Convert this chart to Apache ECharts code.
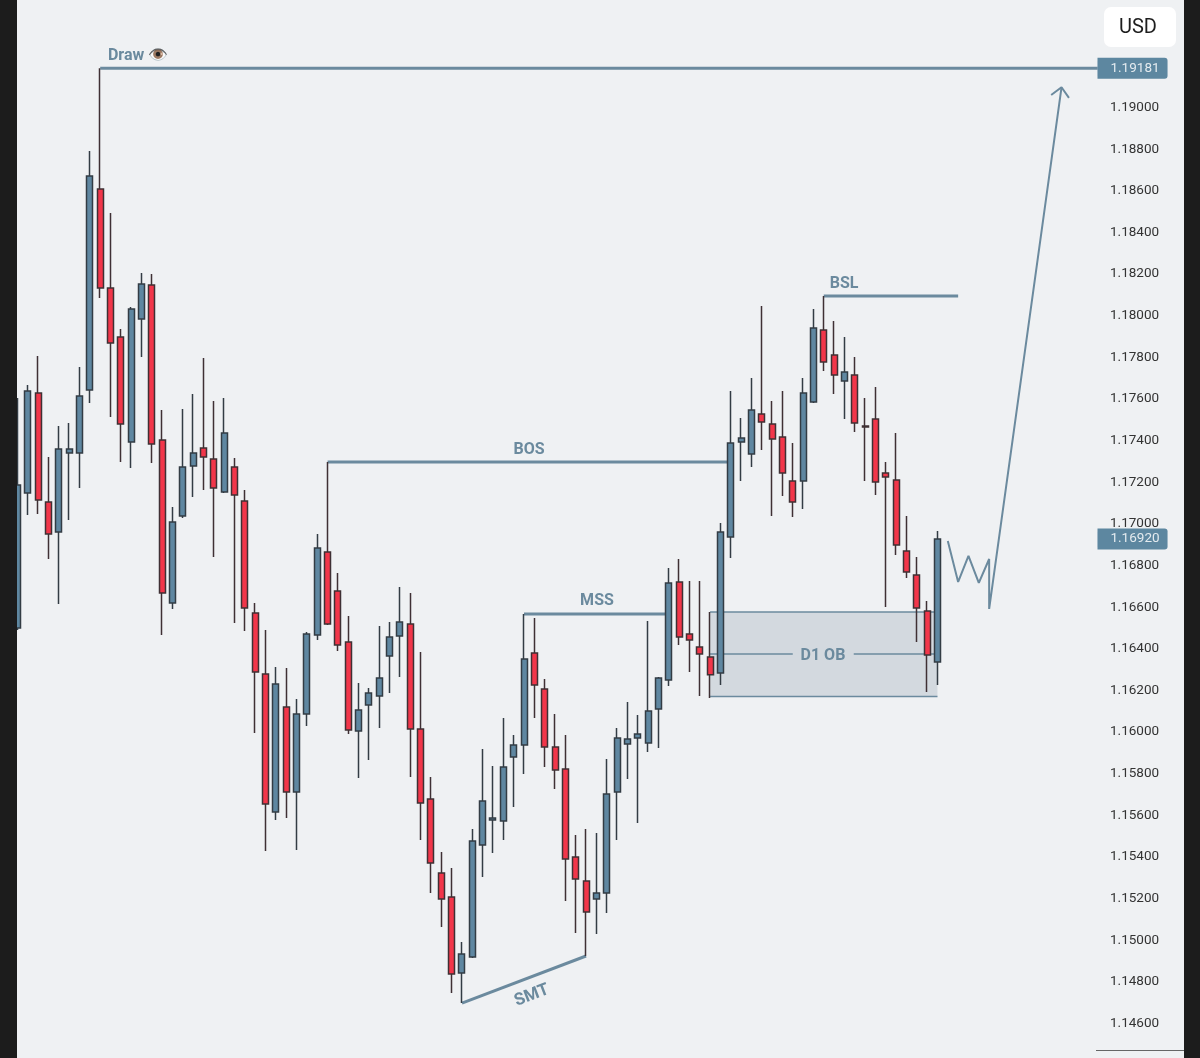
<html>
<head>
    <meta charset="utf-8" />
    <script src="https://cdn.jsdelivr.net/npm/echarts@6/dist/echarts.min.js"></script>
    <style>
        html, body { margin: 0; padding: 0; background: #eff1f3; }
    </style>
</head>
<body>
    <div id="chart" style="width: 1200px;height:1058px;"></div>
    <script>
        // candles, oldest first
        var opens = [
            1.16493,1.17141,1.17621,1.17098,1.16954,1.17333,1.17333,1.17636,1.18601,1.18126,
            1.17890,1.17386,1.17977,1.18140,1.17396,1.16613,1.17031,1.17271,1.17357,1.17304,
            1.17146,1.17266,1.17103,1.16565,1.16272,1.15609,1.16113,1.15705,1.16080,1.16459,
            1.16858,1.16670,1.16425,1.15998,1.16123,1.16166,1.16358,1.16454,1.16512,1.16007,
            1.15671,1.15316,1.15201,1.14835,1.14912,1.15450,1.15570,1.15566,1.15873,1.15931,
            1.16373,1.16200,1.15921,1.15815,1.15393,1.15277,1.15191,1.15220,1.15705,1.15935,
            1.15964,1.15940,1.16104,1.16243,1.16714,1.16464,1.16401,1.16353,1.16276,1.16930,
            1.17386,1.17328,1.17521,1.17473,1.17410,1.17199,1.17199,1.17578,1.17924,1.17804,
            1.17679,1.17708,1.17463,1.17497,1.17237,1.17204,1.16863,1.16747,1.16574,1.16329
        ]
        var closes = [
            1.17180,1.17631,1.17107,1.16944,1.17352,1.17352,1.17607,1.18664,1.18126,1.17862,
            1.17473,1.18025,1.18145,1.17376,1.16661,1.17002,1.17266,1.17333,1.17314,1.17165,
            1.17429,1.17132,1.16589,1.16281,1.15647,1.16224,1.15705,1.16080,1.16464,1.16877,
            1.16512,1.16411,1.16003,1.16099,1.16180,1.16252,1.16449,1.16521,1.16007,1.15652,
            1.15364,1.15191,1.14831,1.14927,1.15470,1.15662,1.15580,1.15825,1.15931,1.16344,
            1.16219,1.15921,1.15811,1.15383,1.15287,1.15128,1.15220,1.15695,1.15964,1.15959,
            1.15983,1.16094,1.16252,1.16709,1.16449,1.16435,1.16368,1.16268,1.16954,1.17381,
            1.17405,1.17540,1.17482,1.17401,1.17237,1.17098,1.17621,1.17934,1.17770,1.17708,
            1.17722,1.17477,1.17458,1.17194,1.17218,1.16891,1.16762,1.16589,1.16363,1.16920
        ]
        var lows = [
            1.16483,1.17035,1.17040,1.16824,1.16608,1.17011,1.17165,1.17573,1.18078,1.17506,
            1.17290,1.17261,1.17794,1.17285,1.16459,1.16584,1.17021,1.17122,1.17156,1.16834,
            1.17141,1.16517,1.16478,1.15988,1.15421,1.15570,1.15580,1.15426,1.16022,1.16435,
            1.16507,1.16382,1.15983,1.15772,1.15859,1.16012,1.16180,1.16257,1.15777,1.15474,
            1.15220,1.15056,1.14739,1.14691,1.14907,1.15297,1.15412,1.15474,1.15633,1.15791,
            1.16060,1.15825,1.15719,1.15181,1.15028,1.14917,1.15023,1.15124,1.15474,1.15767,
            1.15556,1.15897,1.15916,1.16214,1.16411,1.16281,1.16166,1.16156,1.16219,1.16829,
            1.17199,1.17266,1.17348,1.17031,1.17127,1.17026,1.17064,1.17573,1.17727,1.17617,
            1.17497,1.17434,1.17199,1.17132,1.16594,1.16843,1.16733,1.16425,1.16185,1.16219
        ]
        var highs = [
            1.17597,1.17660,1.17799,1.17314,1.17463,1.17477,1.17746,1.18784,1.19181,1.18486,
            1.17929,1.18035,1.18198,1.18193,1.17540,1.17074,1.17545,1.17617,1.17790,1.17583,
            1.17597,1.17309,1.17156,1.16613,1.16483,1.16305,1.16301,1.16152,1.16473,1.16944,
            1.17290,1.16757,1.16550,1.16228,1.16204,1.16502,1.16521,1.16690,1.16661,1.16377,
            1.15777,1.15417,1.15340,1.14984,1.15527,1.15911,1.15830,1.16060,1.15979,1.16560,
            1.16541,1.16248,1.16080,1.15979,1.15498,1.15527,1.15508,1.15863,1.16012,1.16137,
            1.16075,1.16526,1.16257,1.16781,1.16824,1.16718,1.16718,1.16570,1.16997,1.17631,
            1.17501,1.17694,1.18039,1.17583,1.17631,1.17381,1.17694,1.18025,1.18087,1.17967,
            1.17890,1.17794,1.17597,1.17650,1.17290,1.17429,1.17031,1.16834,1.16622,1.16959
        ]

        var yTicks = [1.19,1.188,1.186,1.184,1.182,1.18,1.178,1.176,1.174,1.172,1.17,1.168,1.166,1.164,1.162,1.16,1.158,1.156,1.154,1.152,1.15,1.148,1.146]
        var priceTags = [[104.43, 1.19181], [104.43, 1.16920]]

        // drawn levels, [candle index, price]
        var drawLine = [[8, 1.19181], [104.5, 1.19181]]
        var bosLine = [[30, 1.17290], [69, 1.17290]]
        var mssLine = [[49, 1.16560], [63, 1.16560]]
        var bslLine = [[78, 1.18087], [91, 1.18087]]
        var smtLine = [[43, 1.14691], [55, 1.14917]]
        var pathLine = [[90, 1.16910], [91, 1.16714], [92, 1.16839], [93, 1.16709], [94, 1.16824], [94, 1.16584], [101, 1.19090]]
        var arrowHead = [[100, 1.19053], [101, 1.19090], [101.72, 1.19039]]
        var obTop = [[67, 1.16570], [89, 1.16570]]
        var obBottom = [[67, 1.16163], [89, 1.16163]]
        var obMidLeft = [[67, 1.16368], [75, 1.16368]]
        var obMidRight = [[80.9, 1.16368], [89, 1.16368]]

        var notes = [
            { name: 'Draw 👁️', value: [11.66, 1.19250] },
            { name: 'BOS', value: [49.48, 1.17357] },
            { name: 'MSS', value: [56.06, 1.16632] },
            { name: 'BSL', value: [79.96, 1.18155] },
            { name: 'D1 OB', value: [77.92, 1.16368] },
            { name: 'SMT', value: [49.7, 1.14735], label: { rotate: 21, fontSize: 17 } }
        ]

        var lineColor = '#6b8a9e'
        var fontName = 'Roboto'

        function levelSeries(data, width) {
            return {
                type: 'line',
                xAxisIndex: 1,
                yAxisIndex: 0,
                z: 1,
                symbol: 'none',
                silent: true,
                lineStyle: { color: lineColor, width: width },
                data: data
            }
        }

        var candles = opens.map(function (o, i) {
            return [o, closes[i], lows[i], highs[i]]
        })
        var categories = []
        for (var i = 0; i < 106; i++) {
            categories.push(i)
        }

        var obSeries = levelSeries(obTop, 1.5)
        obSeries.markArea = {
            silent: true,
            itemStyle: { color: '#d3d9df' },
            data: [[{ coord: [obTop[0][0], obTop[0][1]] }, { coord: [obBottom[1][0], obBottom[1][1]] }]]
        }

        var option = {
            animation: false,
            backgroundColor: '#eff1f3',
            grid: { left: 12.33, top: 0, width: 1095.7, height: 1050 },
            xAxis: [
                { type: 'category', data: categories, show: false },
                { type: 'value', min: -0.5, max: 105.5, show: false }
            ],
            yAxis: {
                type: 'value',
                position: 'right',
                min: 1.144655,
                max: 1.195092,
                splitLine: { show: false },
                axisLine: { show: false },
                axisTick: { show: false },
                axisLabel: {
                    customValues: yTicks,
                    margin: 2,
                    color: '#333',
                    fontFamily: fontName,
                    fontSize: 13.5,
                    formatter: function (v) { return '{t|' + v.toFixed(5) + '}' },
                    rich: {
                        t: { padding: [3, 0, 0, 0], color: '#333', fontFamily: fontName, fontSize: 13.5 }
                    }
                }
            },
            series: [
                obSeries,
                levelSeries(obBottom, 1.5),
                levelSeries(obMidLeft, 1.5),
                levelSeries(obMidRight, 1.5),
                levelSeries(drawLine, 3),
                levelSeries(bosLine, 3),
                levelSeries(mssLine, 3),
                levelSeries(bslLine, 3),
                levelSeries(smtLine, 3),
                levelSeries(pathLine, 2),
                levelSeries(arrowHead, 2),
                {
                    type: 'candlestick',
                    z: 2,
                    barWidth: 6.5,
                    itemStyle: {
                        color: '#5f87a1',
                        color0: '#f2364a',
                        borderColor: '#333c44',
                        borderColor0: '#3f3034',
                        borderWidth: 1.5
                    },
                    data: candles
                },
                {
                    type: 'scatter',
                    xAxisIndex: 1,
                    yAxisIndex: 0,
                    z: 3,
                    symbolSize: 1,
                    itemStyle: { color: 'transparent', opacity: 1 },
                    label: {
                        show: true,
                        position: 'inside',
                        offset: [0, 2],
                        color: lineColor,
                        fontFamily: fontName,
                        fontSize: 16,
                        fontWeight: 'bold',
                        formatter: '{b}'
                    },
                    data: notes
                },
                {
                    type: 'scatter',
                    xAxisIndex: 1,
                    yAxisIndex: 0,
                    z: 4,
                    symbolSize: 1,
                    itemStyle: { color: 'transparent', opacity: 1 },
                    label: {
                        show: true,
                        position: 'right',
                        distance: 0,
                        color: '#e4ebef',
                        backgroundColor: '#5d87a0',
                        borderRadius: [0, 3, 3, 0],
                        padding: [4, 8, 3, 13],
                        fontFamily: fontName,
                        fontSize: 13.5,
                        formatter: function (p) { return p.value[1].toFixed(5) }
                    },
                    data: priceTags
                }
            ],
            graphic: [
                { type: 'rect', z: 100, shape: { x: 0, y: 0, width: 17, height: 1058 }, style: { fill: '#1c1c1c' } },
                { type: 'rect', z: 100, shape: { x: 1184, y: 0, width: 16, height: 1058 }, style: { fill: '#1c1c1c' } },
                { type: 'line', z: 100, shape: { x1: 1096, y1: 1050.5, x2: 1184, y2: 1050.5 }, style: { stroke: '#666', lineWidth: 1 } },
                { type: 'rect', z: 100, shape: { x: 1104, y: 7, width: 72, height: 40, r: 7 }, style: { fill: '#ffffff' } },
                { type: 'text', z: 101, x: 1138, y: 27.5, style: { text: 'USD', fill: '#1e1e1e', font: '20px Roboto', align: 'center', verticalAlign: 'middle' } }
            ]
        }

        var chart = echarts.init(document.getElementById('chart'))
        chart.setOption(option)
    </script>
</body>
</html>
